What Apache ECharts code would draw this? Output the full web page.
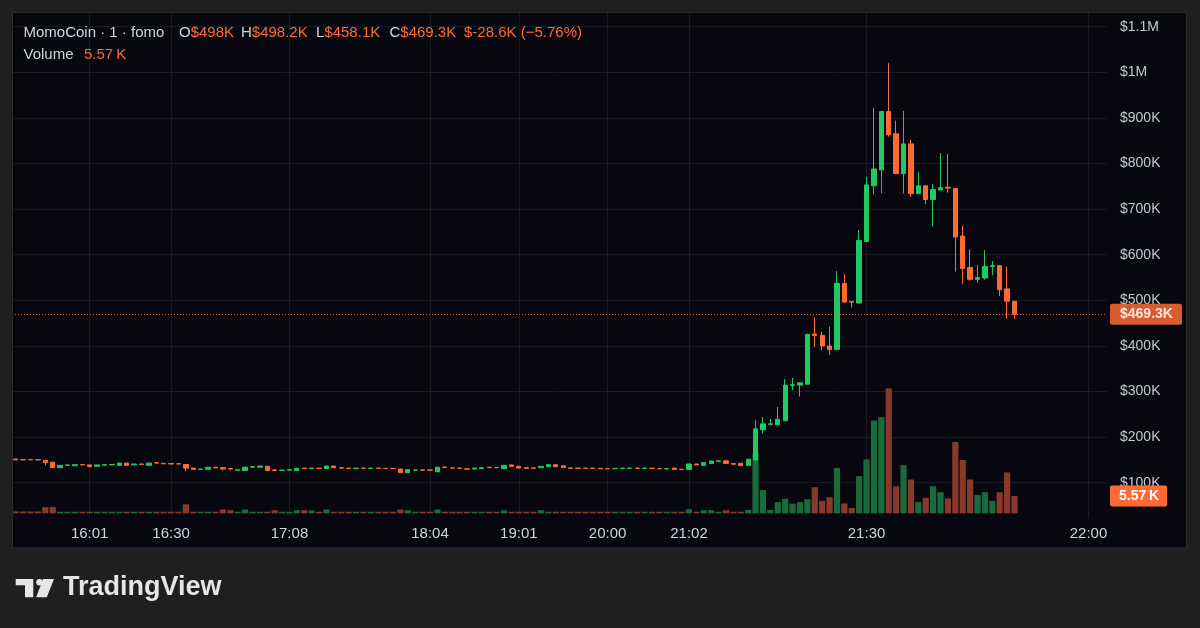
<!DOCTYPE html>
<html><head><meta charset="utf-8">
<script src="https://cdn.jsdelivr.net/npm/echarts@6/dist/echarts.min.js"></script>
<style>html,body{margin:0;padding:0;background:#1f1f1f}#c{width:1200px;height:628px}</style>
</head><body><div id="c"></div>
<script>
// ---- data (prices in K USD, volume in K) ----
const categories = [
'15:35','15:38','15:40','15:43','15:45','15:47','15:50','15:53','15:55','15:58',
'16:01','16:04','16:06','16:09','16:12','16:14','16:17','16:20','16:22','16:25',
'16:27','16:30','16:32','16:35','16:37','16:40','16:42','16:45','16:47','16:50',
'16:52','16:55','16:57','17:00','17:02','17:04','17:06','17:08','17:11','17:14',
'17:17','17:20','17:23','17:26','17:29','17:33','17:36','17:39','17:42','17:45',
'17:48','17:51','17:54','17:57','17:59','18:01','18:04','18:09','18:14','18:18',
'18:23','18:28','18:33','18:37','18:42','18:47','18:52','18:56','19:01','19:06',
'19:11','19:16','19:21','19:26','19:31','19:36','19:41','19:46','19:51','19:55',
'20:00','20:06','20:12','20:18','20:24','20:30','20:36','20:42','20:48','20:54',
'20:58','21:02','21:03','21:04','21:05','21:06','21:08','21:09','21:10','21:12',
'21:13','21:14','21:15','21:16','21:17','21:18','21:19','21:20','21:22','21:23',
'21:24','21:25','21:26','21:27','21:28','21:30','21:31','21:32','21:33','21:34',
'21:35','21:36','21:37','21:38','21:39','21:40','21:41','21:42','21:43','21:44',
'21:45','21:46','21:47','21:48','21:49','21:50','21:51','21:52','21:53','21:54',
'21:55','21:56','21:57','21:58','21:59','22:00','22:01','22:02'];
const tickLabels = ['16:01','16:30','17:08','18:04','19:01','20:00','21:02','21:30','22:00'];

const opens = [
152,151,151,150.5,149,145,133,138,137,140,
139,136,138.5,139,138,143,139,141,138,144,
142.5,142,141.5,140,132,129,129.5,134,133,131,
127.5,127,134,134,136,128,127,127.5,127,132,
131,132,131,136.5,133,132,131,132,131.5,132,
131.5,131.5,130,122,127.5,128,128,124,134.5,132.5,
132,130.5,130,131,134,133.5,131,139,136,133,
132.5,133,135,139.5,137,132.5,132,132,132,131.5,
131,130.5,131,131.5,132,131.5,132,131,130,132,
129.5,129,141,138,142,147,148,142,142.5,138,
150,216,228,227,236,313,314,316,426,423,
400,392,537,497,494,629,751,786,914,865,
778,843,734,751,721,742,748,745,641,572,
546,549,574,576,525,498];
const closes = [
150,150,150,150,144,133,138,139,139.5,139,
135,139,139.5,140,143,138,141,140,143,143,
141.5,141,141,132,129.5,130,134,132.5,130,130,
128.5,134,135.5,136.5,127,127,127.5,128.5,131.5,131,
132,131,136.5,133,132,131,132,131.5,132,131.5,
131,131,122,128.5,128,127.5,127.5,134,133.5,132,
131.5,129.5,132,133,133,133,138,136,132,131.5,
131.5,136,139.5,135,133,131.5,131.5,131.5,131,130.5,
130.5,131.5,132,132,131.5,132,131,130.5,131,129,
129,141,139,144,147.5,148,142,140.5,137.5,151.5,
218,229,229,239,314,315,319,425,423,400,
392,537,496,496,631,753,788,914,863,778,
843,734,751,721,743,747,746,639,570,546,
550,574,576,523,498,469.3];
const lows = [
149.5,149.5,149.5,149.5,138,132,132.5,137.5,136.5,138.5,
134.5,135.5,138,138.5,137.5,137.5,138.5,139.5,137.5,142.5,
141,140.5,140.5,125,129,128.5,129,132,127,127,
127,126.5,133.5,133.5,126.5,126.5,126,127,126.5,130.5,
130.5,130.5,130.5,132.5,131.5,130.5,130.5,131,131,131,
130.5,130.5,121.5,121.5,127,127,127,123.5,133,131.5,
131,129,129.5,130.5,132.5,132.5,130.5,135.5,131.5,131,
131,132.5,134.5,134.5,132.5,131,131,131,130.5,130,
130,130,130.5,131,131,131,130.5,130,129.5,128.5,
128.5,128.5,138.5,137.5,141.5,146.5,141.5,140,137,137.5,
148,208,225,227,235,303,289,315,398,390,
380,391,495,484,493,628,732,735,859,777,
734,727,733,711,661,741,736,563,536,543,
538,545,555,509,460,458.1];
const highs = [
152.5,151.5,151.5,151,149.5,145.5,138.5,139.5,140,140.5,
139.5,139.5,140,140.5,143.5,143.5,141.5,141.5,144,144.5,
143,142.5,142,141,132.5,130.5,134.5,134.5,133.5,131.5,
129,134.5,136,137,136.5,128.5,128.5,129,132,132.5,
132.5,132.5,137.5,137,133.5,132.5,132.5,132.5,132.5,132.5,
132,132,130.5,129,128.5,128.5,128.5,134.5,135,133,
132.5,131,132.5,133.5,134.5,134,138.5,139.5,136.5,133.5,
133,136.5,140,140,137.5,133,132.5,132.5,132.5,132,
131.5,132,132.5,132.5,132.5,132.5,132.5,131.5,131.5,132.5,
130,141.5,141.5,144.5,148,148.5,148.5,142.5,143,152,
237,244,240,266,327,330,320,427,462,431,
442,564,557,498,654,771,922,915,1020,894,
915,852,781,751,755,823,821,746,664,612,
577,610,586,577,574,498.2];
const volumesK = [
0.6,0.6,0.6,0.6,2.0,2.0,0.5,0.5,0.5,0.5,
0.5,0.5,0.5,0.5,0.5,0.5,0.5,0.5,0.5,0.5,
0.5,0.5,0.5,2.9,0.5,0.5,0.5,0.5,1.2,1.0,
0.5,1.2,0.5,0.5,0.5,1.0,0.5,0.5,1.0,1.0,
0.9,0.5,1.2,0.5,0.5,0.5,0.5,0.5,0.5,0.5,
0.5,0.5,1.2,1.0,0.5,0.5,0.5,1.2,0.5,0.5,
0.5,0.5,0.5,0.5,0.5,0.5,1.0,0.5,0.5,0.5,
0.5,1.0,0.5,0.5,0.5,0.5,0.5,0.5,0.5,0.5,
0.5,0.5,0.5,0.5,0.5,0.5,0.5,0.5,0.5,0.5,
0.5,1.3,0.5,1.0,1.0,0.5,1.0,0.5,0.5,1.1,
19.3,7.5,1.1,3.6,4.7,3.1,3.6,4.5,8.4,4.0,
5.2,14.6,3.2,1.7,12.0,17.4,29.9,31.0,40.3,8.7,
15.5,10.9,3.6,5.0,8.7,6.8,4.8,23.0,17.2,10.9,
5.9,6.8,4.0,6.8,13.2,5.57];

// ---- styles ----
const UP = '#22c862', DOWN = '#ff6a33', VUP = '#1a6b3c', VDOWN = '#88392a';
const GRID = '#191923', FONT = '"Liberation Sans", Arial, sans-serif';
const GRAY = '#d1d4dc';

const candleData = opens.map((o, i) => [o, closes[i], lows[i], highs[i]]);
const volData = volumesK.map((v, i) => ({ value: v, itemStyle: { color: closes[i] >= opens[i] ? VUP : VDOWN } }));
const last = closes.length - 1;

function priceFmt(v) {
  if (v >= 1000) return '$' + (Math.round(v / 100) / 10) + 'M';
  return '$' + Math.round(v) + 'K';
}

const hdr = (text, x, y) => ({
  type: 'text', x: x, y: y, z: 200,
  style: { text: text, fill: GRAY, font: '15px ' + FONT, align: 'left', verticalAlign: 'middle', textAlign: 'left', textVerticalAlign: 'middle',
    rich: { g: { fill: GRAY, font: '15px ' + FONT }, o: { fill: DOWN, font: '15px ' + FONT } } }
});
const logoFill = '#e6e6e6';

const chart = echarts.init(document.getElementById('c'));
chart.setOption({
  animation: false,
  backgroundColor: '#07070f',
  textStyle: { fontFamily: FONT },
  grid: [
    { left: 12, right: 93, top: 12, bottom: 145.3 },
    { left: 12, right: 93, top: 12, bottom: 110 }
  ],
  xAxis: [
    { type: 'category', gridIndex: 0, data: categories, boundaryGap: true, show: false },
    { type: 'category', gridIndex: 1, data: categories, boundaryGap: true,
      axisLine: { show: false }, axisTick: { show: false }, splitLine: { show: false },
      axisLabel: { interval: (i, v) => tickLabels.indexOf(v) >= 0, color: GRAY, fontSize: 15, margin: 8, fontFamily: FONT } }
  ],
  yAxis: [
    { type: 'value', gridIndex: 0, position: 'right', min: 100, max: 1132.2, interval: 100,
      axisLine: { show: false }, axisTick: { show: false },
      splitLine: { show: true, lineStyle: { color: GRID, width: 1 } },
      axisLabel: { showMaxLabel: false, formatter: priceFmt, color: '#c4c7cf', fontSize: 14, margin: 13, align: 'left', fontFamily: FONT } },
    { type: 'value', gridIndex: 1, min: -1.516, max: 161.7, show: false, splitLine: { show: false } }
  ],
  series: [
    { type: 'candlestick', xAxisIndex: 0, yAxisIndex: 0, data: candleData, barWidth: 4.8,
      itemStyle: { color: UP, color0: DOWN, borderColor: UP, borderColor0: DOWN, borderWidth: 1 },
      markLine: { symbol: 'none', silent: true, animation: false,
        lineStyle: { color: DOWN, type: [1, 2], width: 1, opacity: 0.85 },
        data: [{ yAxis: closes[last] }],
        label: { show: true, position: 'end', distance: 3, formatter: '$' + closes[last] + 'K',
          color: '#ffffff', backgroundColor: DOWN, padding: [4, 9, 3, 10], fontSize: 14, fontWeight: 'bold', borderRadius: 2, fontFamily: FONT } } },
    { type: 'bar', xAxisIndex: 1, yAxisIndex: 1, data: volData, barWidth: '84%',
      markLine: { z: 1, symbol: 'none', silent: true, animation: false,
        lineStyle: { color: GRID, width: 1, type: 'solid' },
        data: tickLabels.map(t => ({ xAxis: t, label: { show: false }, lineStyle: { color: GRID, width: 1, type: 'solid' } }))
          .concat([{ yAxis: volumesK[last], lineStyle: { color: 'rgba(0,0,0,0)', width: 1, type: 'solid' },
            label: { show: true, position: 'end', distance: 3, formatter: volumesK[last] + '\u2009K',
              color: '#ffffff', backgroundColor: DOWN, padding: [4, 8, 3, 9], fontSize: 14, fontWeight: 'bold', borderRadius: 2, fontFamily: FONT } }]) } }
  ],
  graphic: [
    { type: 'rect', z: 100, shape: { x: 0, y: 0, width: 1200, height: 12 }, style: { fill: '#1f1f1f' } },
    { type: 'rect', z: 100, shape: { x: 0, y: 0, width: 12, height: 628 }, style: { fill: '#1f1f1f' } },
    { type: 'rect', z: 100, shape: { x: 1187, y: 0, width: 13, height: 628 }, style: { fill: '#1f1f1f' } },
    { type: 'rect', z: 100, shape: { x: 0, y: 548, width: 1200, height: 80 }, style: { fill: '#1f1f1f' } },
    { type: 'rect', z: 101, shape: { x: 12.5, y: 12.5, width: 1174, height: 535.5 }, style: { fill: null, stroke: '#2c2c30', lineWidth: 1 } },
    hdr('{g|MomoCoin · 1 · fomo}', 23.5, 33),
    hdr('{g|O}{o|$498K}', 179, 33),
    hdr('{g|H}{o|$498.2K}', 241, 33),
    hdr('{g|L}{o|$458.1K}', 316, 33),
    hdr('{g|C}{o|$469.3K}', 389.5, 33),
    hdr('{o|$-28.6K (\u22125.76%)}', 464, 33),
    hdr('{g|Volume}', 23.5, 55),
    hdr('{o|5.57\u2009K}', 84, 55),
    { type: 'polygon', z: 102, shape: { points: [[15.7, 579], [33.3, 579], [33.3, 597.3], [25, 597.3], [25, 585.3], [15.7, 585.3]] }, style: { fill: logoFill } },
    { type: 'circle', z: 102, shape: { cx: 39.5, cy: 582.3, r: 3.3 }, style: { fill: logoFill } },
    { type: 'polygon', z: 102, shape: { points: [[43, 579], [54, 579], [46.8, 597.3], [36.2, 597.3]] }, style: { fill: logoFill } },
    { type: 'text', z: 102, x: 63, y: 588,
      style: { text: 'TradingView', fill: logoFill, font: 'bold 27px ' + FONT, align: 'left', verticalAlign: 'middle', textAlign: 'left', textVerticalAlign: 'middle' } }
  ]
});
</script>
</body></html>
